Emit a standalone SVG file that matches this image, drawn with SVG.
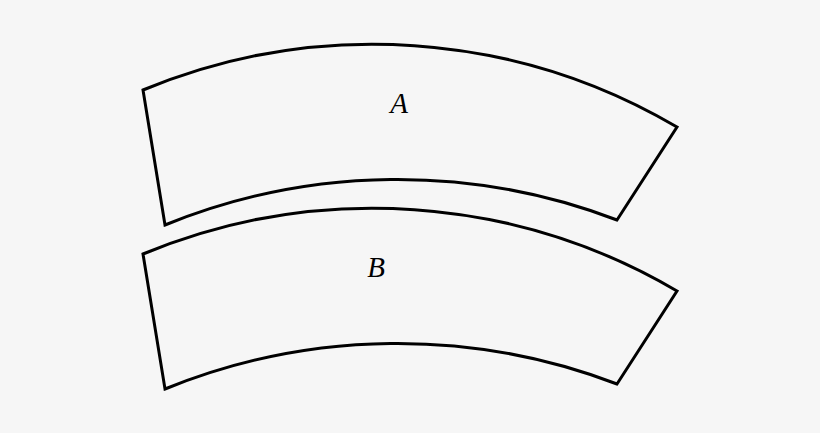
<svg xmlns="http://www.w3.org/2000/svg" width="820" height="433" viewBox="0 0 820 433">
<style>
.s{fill:none;stroke:#000;stroke-width:3;stroke-linejoin:miter}
.t{font-family:"Liberation Serif",serif;font-style:italic;font-size:29px;text-anchor:middle}
</style>
<defs><path id="arc" d="M143,90 A600,600 0 0 1 677,127 L617,220 A615,615 0 0 0 165,225 Z"/></defs>
<rect width="820" height="433" fill="#f6f6f6"/>
<g id="A"><use href="#arc" class="s"/><text class="t" x="399" y="113">A</text></g>
<g id="B" transform="translate(0,164)"><use href="#arc" class="s"/><text class="t" x="376" y="113">B</text></g>
</svg>
